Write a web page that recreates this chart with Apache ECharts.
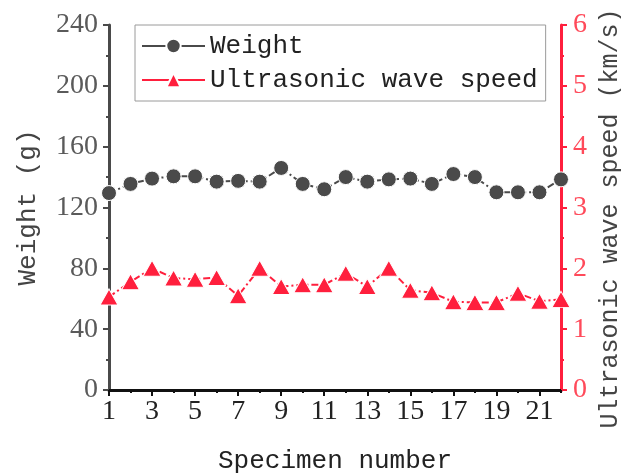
<!DOCTYPE html>
<html>
<head>
<meta charset="utf-8">
<script src="https://cdn.jsdelivr.net/npm/echarts@6/dist/echarts.min.js"></script>
<style>
  html, body { margin: 0; padding: 0; background: #fff; }
  #chart { width: 621px; height: 475px; }
</style>
</head>
<body>
<div id="chart"></div>
<script>
// specimen data
var specimens = ['1','2','3','4','5','6','7','8','9','10','11','12','13','14','15','16','17','18','19','20','21','22'];
var weight = [129.5, 135.5, 139, 140.5, 140.5, 137, 137.5, 137, 146, 135.5, 132, 140, 137, 138.5, 139, 135.5, 142, 140, 130, 130, 130, 138.5];
var speed = [1.53, 1.78, 2.0, 1.84, 1.82, 1.85, 1.55, 2.0, 1.70, 1.73, 1.73, 1.92, 1.70, 2.0, 1.64, 1.60, 1.45, 1.44, 1.44, 1.59, 1.46, 1.49];

var gray = '#4a4a4a';
var red = '#ff1f3d';
var serif = 'Liberation Serif';
var mono = 'Liberation Mono';

var chart = echarts.init(document.getElementById('chart'), null, { renderer: 'canvas' });
chart.setOption({
  animation: false,
  backgroundColor: '#fff',
  grid: { left: 109, right: 60, top: 25, bottom: 85, outerBoundsMode: 'none', containLabel: false },
  legend: {
    orient: 'vertical',
    left: 135, top: 25,
    padding: [8, 8, 8, 6],
    itemGap: 8,
    itemWidth: 63, itemHeight: 18,
    borderColor: '#9a9a9a', borderWidth: 1,
    lineStyle: { type: 'solid', width: 2 },
    textStyle: { fontFamily: mono, fontSize: 26, color: '#222' },
    data: ['Weight', 'Ultrasonic wave speed']
  },
  xAxis: [{
    type: 'category',
    data: specimens,
    boundaryGap: false,
    name: 'Specimen number',
    nameLocation: 'middle',
    nameGap: 58,
    nameTextStyle: { fontFamily: mono, fontSize: 26, color: '#222' },
    axisLine: { lineStyle: { color: '#111', width: 3 } },
    axisTick: { interval: 0, length: 3, lineStyle: { color: '#111', width: 2 } },
    axisLabel: { interval: 1, margin: 8, fontFamily: serif, fontSize: 28, color: '#222' },
    splitLine: { show: false }
  }, {
    type: 'category',
    data: specimens,
    boundaryGap: false,
    position: 'bottom',
    axisLine: { show: false },
    axisTick: { interval: 1, length: 6, lineStyle: { color: '#111', width: 2 } },
    axisLabel: { show: false },
    splitLine: { show: false }
  }],
  yAxis: [{
    type: 'value',
    min: 0, max: 240, interval: 40,
    name: 'Weight (g)',
    nameLocation: 'middle',
    nameGap: 68,
    nameTextStyle: { fontFamily: mono, fontSize: 26, color: '#444' },
    axisLine: { show: true, lineStyle: { color: gray, width: 3 } },
    axisTick: { show: true, length: 6, lineStyle: { color: gray, width: 2 } },
    minorTick: { show: true, splitNumber: 2, length: 3, lineStyle: { color: gray, width: 2 } },
    axisLabel: { margin: 11, fontFamily: serif, fontSize: 28, color: '#5a5a5a' },
    splitLine: { show: false }
  }, {
    type: 'value',
    min: 0, max: 6, interval: 1,
    position: 'right',
    name: 'Ultrasonic wave speed (km/s)',
    nameLocation: 'middle',
    nameGap: 37,
    nameRotate: 90,
    nameTextStyle: { fontFamily: mono, fontSize: 25, color: '#444', verticalAlign: 'top', padding: [0, 22, 0, 0] },
    axisLine: { show: true, lineStyle: { color: red, width: 3 } },
    axisTick: { show: true, length: 6, lineStyle: { color: red, width: 2 } },
    minorTick: { show: true, splitNumber: 2, length: 3, lineStyle: { color: red, width: 2 } },
    axisLabel: { margin: 12, fontFamily: serif, fontSize: 28, color: '#ff4a5a' },
    splitLine: { show: false }
  }],
  series: [{
    name: 'Weight',
    type: 'line',
    xAxisIndex: 0, yAxisIndex: 0,
    data: weight,
    showAllSymbol: true,
    symbol: 'circle',
    symbolSize: 15,
    itemStyle: { color: gray, borderColor: '#fff', borderWidth: 1 },
    lineStyle: { color: gray, width: 2, type: [7, 3, 2, 3] }
  }, {
    name: 'Ultrasonic wave speed',
    type: 'line',
    xAxisIndex: 0, yAxisIndex: 1,
    data: speed,
    showAllSymbol: true,
    symbol: 'triangle',
    symbolSize: [18, 16],
    itemStyle: { color: red, borderColor: '#fff', borderWidth: 1 },
    lineStyle: { color: red, width: 2, type: [7, 3, 2, 3] }
  }]
});
</script>
</body>
</html>
